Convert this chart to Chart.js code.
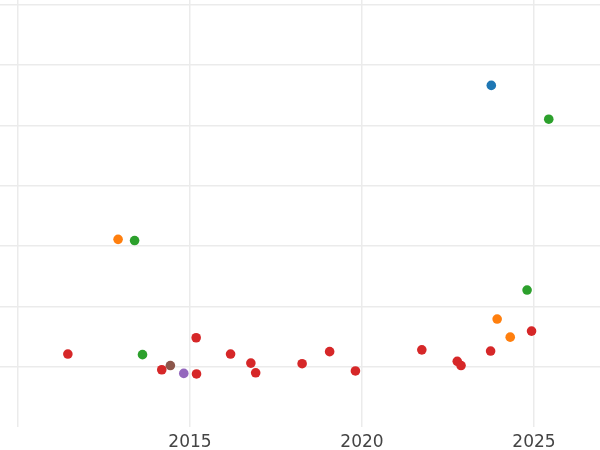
<!DOCTYPE html>
<html>
<head>
<meta charset="utf-8">
<script src="https://cdn.jsdelivr.net/npm/chart.js@4"></script>
<style>
  html, body { margin: 0; padding: 0; background: #fff; }
  #wrap { width: 600px; height: 450px; }
</style>
</head>
<body>
<div id="wrap"><canvas id="chart"></canvas></div>
<script>
// year ticks along the bottom (2010 line is drawn but not labelled)
const tickYears = [2010, 2015, 2020, 2025];
const tickLabels = ['', '2015', '2020', '2025'];
const gridValues = [0, 1, 2, 3, 4, 5, 6];

// points grouped by colour
const redX = [2011.45, 2014.18, 2015.19, 2015.18, 2016.18, 2016.77, 2016.91, 2018.26, 2019.06, 2019.81, 2021.74, 2022.77, 2022.88, 2023.74, 2024.93];
const redY = [0.21, -0.05, -0.12, 0.48, 0.21, 0.06, -0.10, 0.05, 0.25, -0.07, 0.28, 0.09, 0.02, 0.26, 0.59];
const orangeX = [2012.91, 2023.93, 2024.31];
const orangeY = [2.11, 0.79, 0.49];
const greenX = [2013.39, 2013.62, 2024.80, 2025.43];
const greenY = [2.09, 0.20, 1.27, 4.10];
const blueX = [2023.76];
const blueY = [4.66];
const purpleX = [2014.82];
const purpleY = [-0.11];
const brownX = [2014.43];
const brownY = [0.02];

function pts(xs, ys) {
    return xs.map((x, i) => ({ x: x, y: ys[i] }));
}

function series(xs, ys, color) {
    return {
        data: pts(xs, ys),
        backgroundColor: color,
        borderColor: color,
        borderWidth: 0,
        pointRadius: 4.8,
        pointHoverRadius: 4.8
    };
}

new Chart(document.getElementById('chart'), {
    type: 'scatter',
    data: {
        datasets: [
            series(redX, redY, '#d62728'),
            series(orangeX, orangeY, '#ff7f0e'),
            series(greenX, greenY, '#2ca02c'),
            series(blueX, blueY, '#1f77b4'),
            series(purpleX, purpleY, '#9467bd'),
            series(brownX, brownY, '#8c564b')
        ]
    },
    options: {
        responsive: true,
        maintainAspectRatio: false,
        animation: false,
        layout: { padding: 0, autoPadding: false },
        plugins: {
            legend: { display: false },
            tooltip: { enabled: false }
        },
        scales: {
            x: {
                type: 'linear',
                min: 2009.477,
                max: 2026.92,
                afterBuildTicks: axis => { axis.ticks = tickYears.map(v => ({ value: v })); },
                afterFit: axis => { axis.height = 23.5; },
                ticks: {
                    callback: (v) => tickLabels[tickYears.indexOf(v)],
                    color: '#444',
                    font: { family: 'DejaVu Sans', size: 17, lineHeight: 0.9 },
                    padding: 8,
                    maxRotation: 0,
                    autoSkip: false
                },
                grid: { color: '#ebebeb', lineWidth: 1.5, drawTicks: false },
                border: { display: false }
            },
            y: {
                min: -0.99,
                max: 6.075,
                afterBuildTicks: axis => { axis.ticks = gridValues.map(v => ({ value: v })); },
                ticks: { display: false },
                grid: { color: '#ebebeb', lineWidth: 1.5, drawTicks: false },
                border: { display: false }
            }
        }
    }
});
</script>
</body>
</html>
